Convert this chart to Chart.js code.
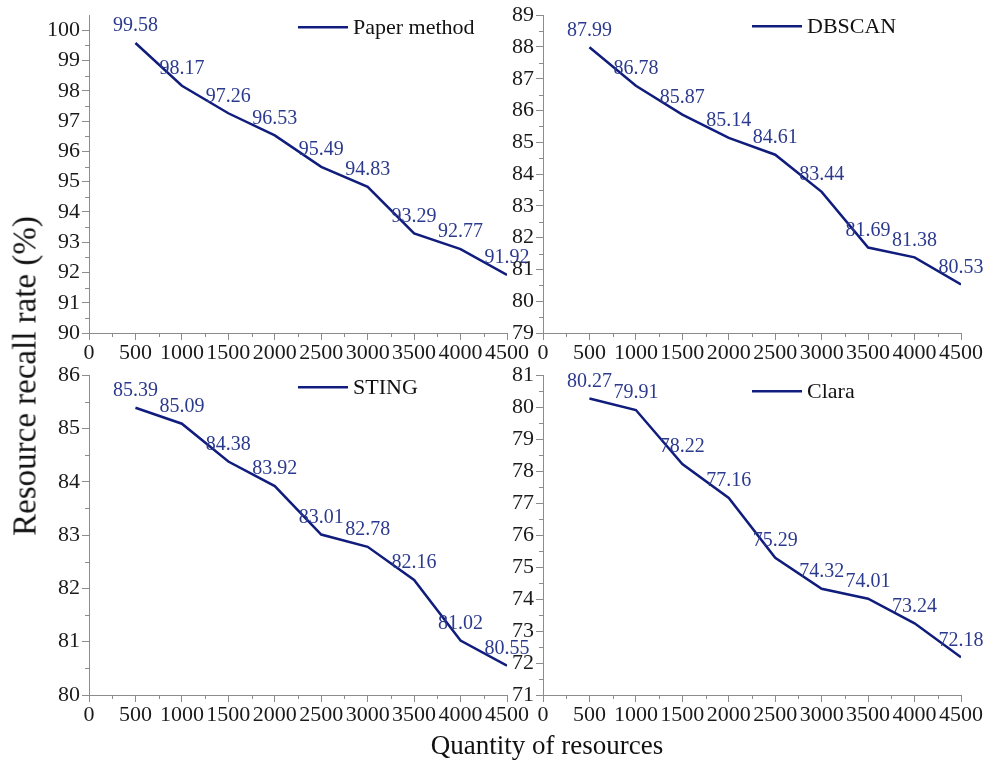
<!DOCTYPE html>
<html>
<head>
<meta charset="utf-8">
<script src="https://cdn.jsdelivr.net/npm/chart.js@4.4.0/dist/chart.umd.min.js"></script>
<style>
    body { margin: 0; background: #fff; width: 987px; height: 763px; position: relative; overflow: hidden; font-family: "Liberation Serif", serif; }
    .panel { position: absolute; }
    #yTitle { position: absolute; left: 25px; top: 376px; transform: translate(-50%, -50%) rotate(-90deg); font-size: 33px; white-space: nowrap; color: #111; }
    #xTitle { position: absolute; left: 547px; top: 745px; transform: translate(-50%, -50%); font-size: 27px; white-space: nowrap; color: #111; }
</style>
</head>
<body>
<div class="panel" style="left:0;top:0;width:540px;height:370px"><canvas id="chart1"></canvas></div>
<div class="panel" style="left:460px;top:0;width:527px;height:370px"><canvas id="chart2"></canvas></div>
<div class="panel" style="left:0;top:360px;width:540px;height:403px"><canvas id="chart3"></canvas></div>
<div class="panel" style="left:460px;top:360px;width:527px;height:403px"><canvas id="chart4"></canvas></div>
<div id="yTitle">Resource recall rate (%)</div>
<div id="xTitle">Quantity of resources</div>

<script>
// x values (quantity of resources)
const quantities = [500, 1000, 1500, 2000, 2500, 3000, 3500, 4000, 4500];

// recall rate per method (%)
const paperMethod = [99.58, 98.17, 97.26, 96.53, 95.49, 94.83, 93.29, 92.77, 91.92];
const dbscan = [87.99, 86.78, 85.87, 85.14, 84.61, 83.44, 81.69, 81.38, 80.53];
const sting = [85.39, 85.09, 84.38, 83.92, 83.01, 82.78, 82.16, 81.02, 80.55];
const clara = [80.27, 79.91, 78.22, 77.16, 75.29, 74.32, 74.01, 73.24, 72.18];

// y axis ranges per panel
const yRanges = [[90, 100.5], [79, 89], [80, 86], [71, 81]];
const xRange = [0, 4500];

const LINE_COLOR = '#101d7c';
const LABEL_COLOR = '#2c3a8e';
const AXIS_COLOR = '#8c8c8c';
const FONT = '"Liberation Serif", "Times New Roman", serif';

// panel boxes: canvas position and plot area (page pixels)
const panels = [
    { id: 'chart1', name: 'Paper method', data: paperMethod, left: 0, top: 0, w: 540, h: 370, area: [89, 14, 507, 333], legendDy: 12 },
    { id: 'chart2', name: 'DBSCAN', data: dbscan, left: 460, top: 0, w: 527, h: 370, area: [543, 14, 961, 333], legendDy: 11 },
    { id: 'chart3', name: 'STING', data: sting, left: 0, top: 360, w: 540, h: 403, area: [89, 375, 507, 695], legendDy: 12 },
    { id: 'chart4', name: 'Clara', data: clara, left: 460, top: 360, w: 527, h: 403, area: [543, 375, 961, 695], legendDy: 16 }
];

// value labels above each point
const valueLabels = {
    id: 'valueLabels',
    afterDatasetsDraw(chart) {
        const ctx = chart.ctx;
        const meta = chart.getDatasetMeta(0);
        const values = chart.data.datasets[0].data;
        ctx.save();
        ctx.font = '20px ' + FONT;
        ctx.fillStyle = LABEL_COLOR;
        ctx.textAlign = 'center';
        ctx.textBaseline = 'middle';
        meta.data.forEach((pt, i) => {
            ctx.fillText(values[i].y.toFixed(2), pt.x, pt.y - 17);
        });
        ctx.restore();
    }
};

// minor ticks between the major ones
const minorTicks = {
    id: 'minorTicks',
    afterDraw(chart) {
        const ctx = chart.ctx;
        const xs = chart.scales.x, ys = chart.scales.y;
        ctx.save();
        ctx.strokeStyle = AXIS_COLOR;
        ctx.lineWidth = 1;
        ctx.beginPath();
        for (let v = xs.min + 250; v < xs.max; v += 500) {
            const px = Math.round(xs.getPixelForValue(v)) + 0.5;
            ctx.moveTo(px, xs.top);
            ctx.lineTo(px, xs.top + 4);
        }
        for (let v = Math.ceil(ys.min) + 0.5; v < ys.max; v += 1) {
            const py = Math.round(ys.getPixelForValue(v)) + 0.5;
            ctx.moveTo(ys.right, py);
            ctx.lineTo(ys.right - 4, py);
        }
        ctx.stroke();
        ctx.restore();
    }
};

// legend drawn inside the plot area, top right
const cornerLegend = {
    id: 'cornerLegend',
    afterDraw(chart, args, opts) {
        const ctx = chart.ctx;
        const a = chart.chartArea;
        const x0 = a.right - 209;
        const y0 = a.top + opts.dy;
        ctx.save();
        ctx.strokeStyle = LINE_COLOR;
        ctx.lineWidth = 2.5;
        ctx.beginPath();
        ctx.moveTo(x0, y0);
        ctx.lineTo(x0 + 50, y0);
        ctx.stroke();
        ctx.font = '22px ' + FONT;
        ctx.fillStyle = '#111';
        ctx.textAlign = 'left';
        ctx.textBaseline = 'middle';
        ctx.fillText(chart.data.datasets[0].label, x0 + 55, y0 + 1);
        ctx.restore();
    }
};

function buildChart(p, idx) {
    const [aLeft, aTop, aRight, aBottom] = p.area;
    const yr = yRanges[idx];
    const ctx = document.getElementById(p.id).getContext('2d');
    return new Chart(ctx, {
        type: 'line',
        data: {
            datasets: [{
                label: p.name,
                data: quantities.map((q, i) => ({ x: q, y: p.data[i] })),
                borderColor: LINE_COLOR,
                borderWidth: 2.5,
                pointRadius: 0,
                tension: 0,
                fill: false
            }]
        },
        options: {
            responsive: true,
            maintainAspectRatio: false,
            animation: false,
            layout: {
                padding: { left: 0, top: aTop - p.top, right: p.left + p.w - aRight, bottom: 0 }
            },
            plugins: {
                legend: { display: false },
                tooltip: { enabled: false },
                cornerLegend: { dy: p.legendDy }
            },
            scales: {
                x: {
                    type: 'linear',
                    min: xRange[0],
                    max: xRange[1],
                    afterFit: s => { s.height = p.top + p.h - aBottom; },
                    border: { display: true, color: AXIS_COLOR, width: 1 },
                    grid: { display: true, drawOnChartArea: false, color: AXIS_COLOR, tickLength: 7 },
                    ticks: {
                        stepSize: 500,
                        autoSkip: false,
                        maxRotation: 0,
                        padding: 0,
                        color: '#1a1a1a',
                        font: { family: FONT, size: 22 },
                        callback: v => String(v)
                    }
                },
                y: {
                    min: yr[0],
                    max: yr[1],
                    afterBuildTicks: s => {
                        const t = [];
                        for (let v = Math.ceil(yr[0]); v <= Math.floor(yr[1]); v++) t.push({ value: v });
                        s.ticks = t;
                    },
                    afterFit: s => { s.width = aLeft - p.left; },
                    border: { display: true, color: AXIS_COLOR, width: 1 },
                    grid: { display: true, drawOnChartArea: false, color: AXIS_COLOR, tickLength: 7 },
                    ticks: {
                        stepSize: 1,
                        padding: 2,
                        color: '#1a1a1a',
                        font: { family: FONT, size: 22 },
                        callback: v => String(v)
                    }
                }
            }
        },
        plugins: [valueLabels, minorTicks, cornerLegend]
    });
}

const charts = panels.map(buildChart);
</script>
</body>
</html>
